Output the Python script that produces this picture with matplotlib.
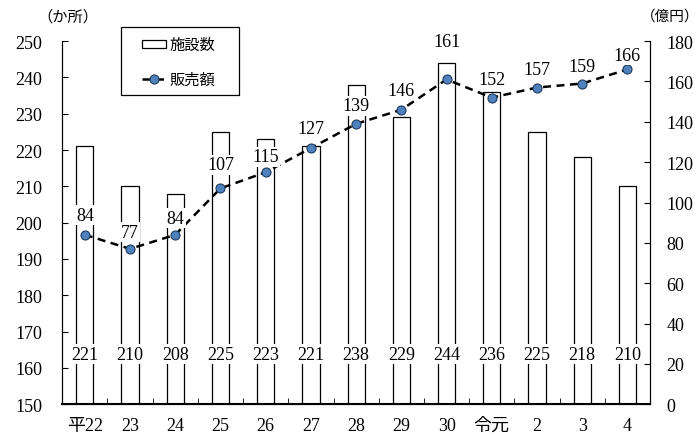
import matplotlib.pyplot as plt
import numpy as np
from matplotlib.patches import Rectangle

plt.rcParams['font.family'] = ['Liberation Serif', 'Noto Sans CJK JP']

years = ['平22', '23', '24', '25', '26', '27', '28', '29', '30', '令元', '2', '3', '4']
facilities = [221, 210, 208, 225, 223, 221, 238, 229, 244, 236, 225, 218, 210]  # 施設数 (か所)
sales = [84, 77, 84, 107, 115, 127, 139, 146, 161, 152, 157, 159, 166]  # 販売額 (億円)
# vertical offset (points) of each sales label above its marker
label_offsets = [14, 12, 12, 17, 11, 14, 13, 14, 27, 13, 13, 12, 10]

x = np.arange(len(years))

fig, ax = plt.subplots(figsize=(6.99, 4.39), dpi=100)
fig.subplots_adjust(left=0.089, right=0.93, top=0.904, bottom=0.077)

bars = ax.bar(x, np.array(facilities) - 150, bottom=150, width=0.38,
              color='white', edgecolor='black', linewidth=0.9, label='施設数', zorder=2)
ax.set_ylim(150, 250)
ax.set_yticks(range(150, 251, 10))
ax.set_xlim(-0.5, len(years) - 0.5)
ax.set_xticks(x)
ax.set_xticklabels(years, fontsize=13)
ax.set_xticks(np.arange(-0.5, len(years), 1), minor=True)
ax.tick_params(axis='x', which='major', length=0, pad=9)
ax.tick_params(axis='x', which='minor', direction='in', length=4)
ax.tick_params(axis='y', direction='in', length=4, labelsize=13, pad=14.5)
ax.spines['top'].set_visible(False)
ax.spines['bottom'].set_linewidth(1.5)

for xi, v in zip(x, facilities):
    ax.text(xi, 163.8, str(v), ha='center', va='center', fontsize=13, zorder=3,
            bbox=dict(facecolor='white', edgecolor='none', pad=1))

ax2 = ax.twinx()
ax2.set_ylim(0, 180)
ax2.set_yticks(range(0, 181, 20))
ax2.tick_params(axis='y', direction='in', length=4, labelsize=13, pad=12)
ax2.spines['top'].set_visible(False)
line, = ax2.plot(x, sales, color='black', linestyle=(0, (3.2, 2.2)), linewidth=1.8,
                 marker='o', markersize=6.5, markerfacecolor='#4f81bd',
                 markeredgecolor='#1f3b5c', markeredgewidth=0.8, label='販売額', zorder=4)
for xi, v, off in zip(x, sales, label_offsets):
    ax2.annotate(str(v), (xi, v), xytext=(0, off), textcoords='offset points',
                 ha='center', va='center', fontsize=13, zorder=5,
                 bbox=dict(facecolor='white', edgecolor='none', pad=1))

fig.text(68 / 699, 1 - 17 / 439, '（か所）', ha='center', va='center', fontsize=11)
fig.text(641 / 699, 1 - 17 / 439, '（億円）', ha='left', va='center', fontsize=10.5)

# legend box drawn separately so the entries can sit inset like the original
ax2.add_patch(Rectangle((121 / 699, 1 - 96 / 439), 118 / 699, 68 / 439,
                        transform=fig.transFigure, facecolor='white', clip_on=False,
                        edgecolor='black', linewidth=0.9, zorder=6))
leg = ax2.legend([bars, line], ['施設数', '販売額'], loc='upper left',
                 bbox_to_anchor=(142 / 699, 1 - 39 / 439), bbox_transform=fig.transFigure,
                 frameon=False, fontsize=11, labelspacing=1.3, handlelength=1.6,
                 handleheight=0.45, handletextpad=0.2, borderpad=0, borderaxespad=0)
leg.set_zorder(7)

fig.savefig('out.png', dpi=100)
